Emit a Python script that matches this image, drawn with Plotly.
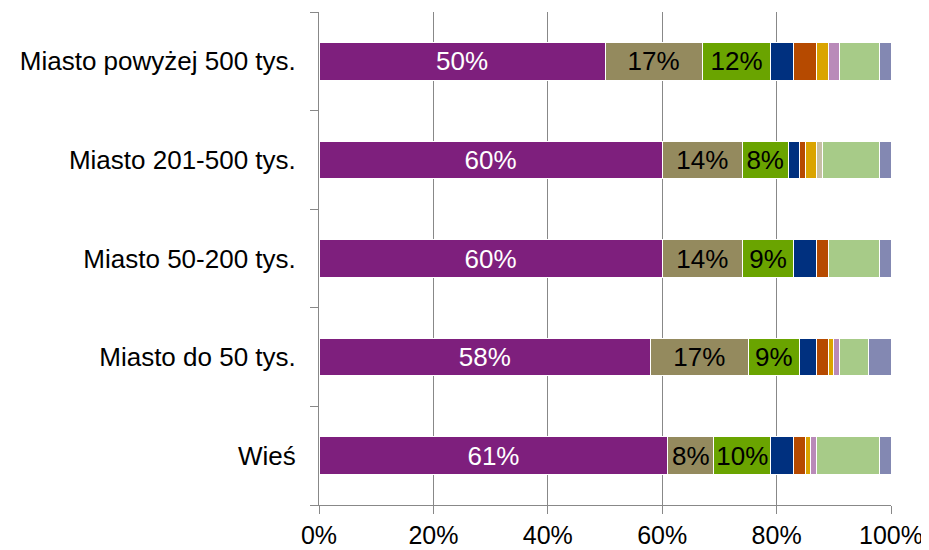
import plotly.graph_objects as go

categories = ["Wieś", "Miasto do 50 tys.", "Miasto 50-200 tys.", "Miasto 201-500 tys.", "Miasto powyżej 500 tys."]

s1 = [61, 58, 60, 60, 50]
s2 = [8, 17, 14, 14, 17]
s3 = [10, 9, 9, 8, 12]
s4 = [4, 3, 4, 2, 4]
s5 = [2, 2, 2, 1, 4]
s6 = [1, 1, 0, 2, 2]
s7 = [1, 1, 0, 0, 2]
s8 = [0, 0, 0, 1, 0]
s9 = [11, 5, 9, 10, 7]
s10 = [2, 4, 2, 2, 2]

x_ticks = [0, 20, 40, 60, 80, 100]
x_tick_labels = ["0%", "20%", "40%", "60%", "80%", "100%"]

series = [s1, s2, s3, s4, s5, s6, s7, s8, s9, s10]
colors = ["#7E1F7D", "#948A5E", "#6AA400", "#00307F", "#B64A00", "#DAA400",
          "#B98AB9", "#C6BFA4", "#A7CB88", "#8388B2"]
labelled = [0, 1, 2]
label_colors = {0: "white", 1: "black", 2: "black"}

FONT = "Liberation Sans, Arial, sans-serif"

fig = go.Figure()
for i, (vals, col) in enumerate(zip(series, colors)):
    if i in labelled:
        text = [f"{v}%" for v in vals]
        tfont = dict(family=FONT, size=26, color=label_colors[i])
    else:
        text = None
        tfont = None
    fig.add_trace(go.Bar(
        y=categories, x=vals, orientation="h",
        marker=dict(color=col, line=dict(color="white", width=1)),
        text=text, textposition="inside" if text else "none",
        insidetextanchor="middle", textangle=0, constraintext="none",
        insidetextfont=tfont, hoverinfo="skip", showlegend=False,
    ))

fig.update_layout(
    barmode="stack", bargap=0.62,
    width=929, height=542,
    margin=dict(l=311, r=46, t=4, b=45, autoexpand=False),
    plot_bgcolor="white", paper_bgcolor="white",
    font=dict(family=FONT, size=26, color="black"),
)
fig.update_xaxes(
    range=[0, 100], tickmode="array", tickvals=x_ticks, ticktext=x_tick_labels,
    showgrid=True, gridcolor="#888888", gridwidth=1,
    showline=True, linecolor="#888888", linewidth=1,
    ticks="outside", ticklen=8, tickcolor="#888888",
    tickfont=dict(size=25), zeroline=False, automargin=False,
)
fig.update_yaxes(
    type="category", categoryorder="array", categoryarray=categories,
    showline=True, linecolor="#888888", linewidth=1,
    ticks="outside", ticklen=8, tickcolor="#888888", tickson="boundaries",
    showgrid=False, tickfont=dict(size=26), ticklabelstandoff=17, automargin=False,
)

fig.write_html("out.html")
